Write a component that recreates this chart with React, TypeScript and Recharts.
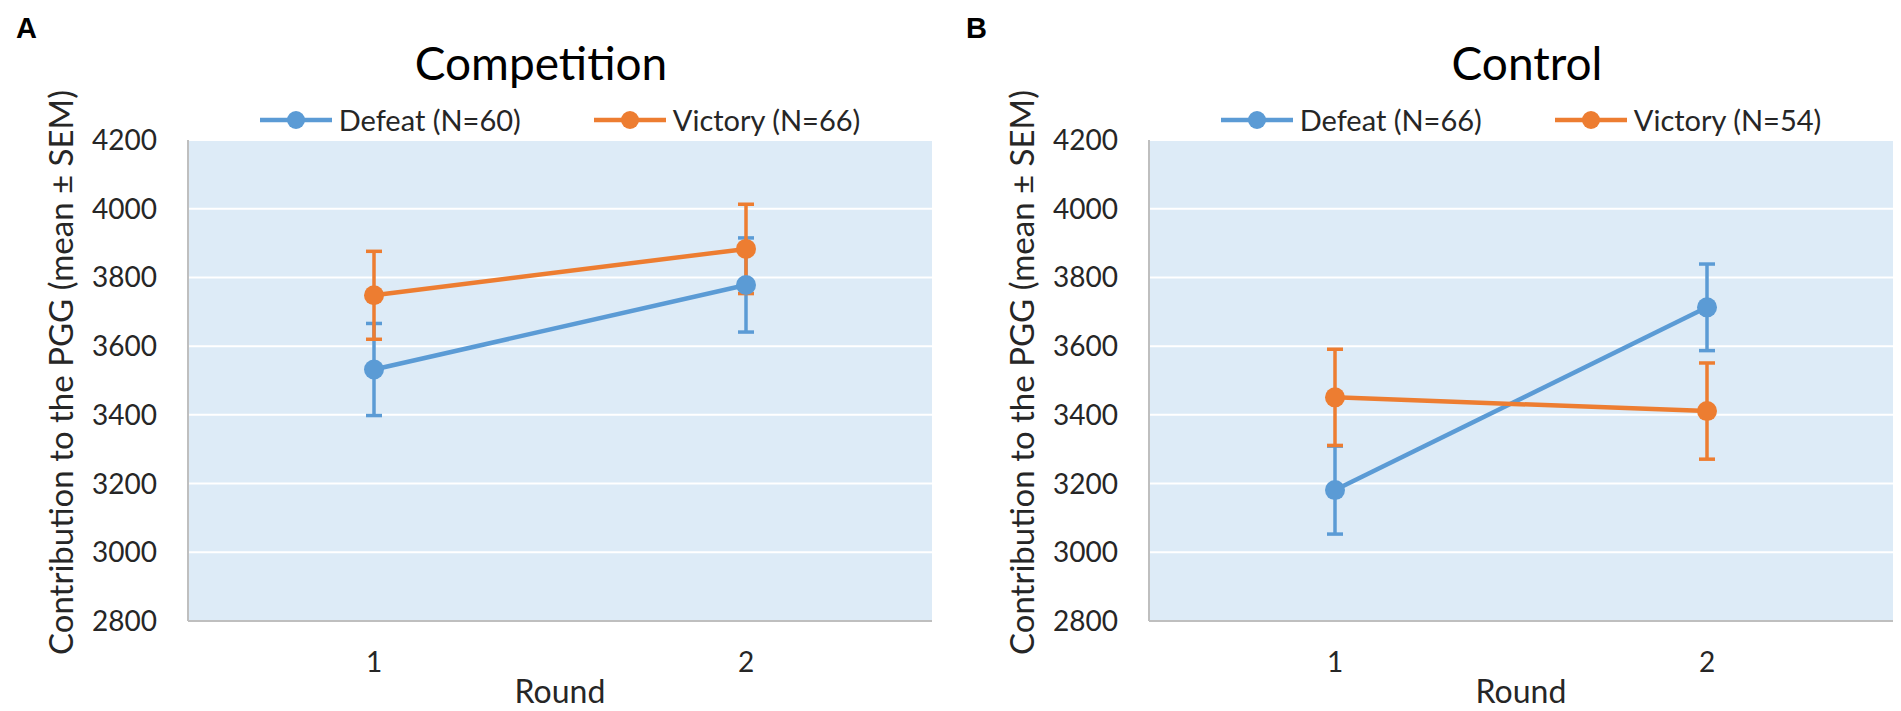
import React from 'react';
import { LineChart, Line, XAxis, YAxis, CartesianGrid, ErrorBar, Legend } from 'recharts';

// --- data ---

const rounds = ['1', '2'];
const yTicks = [2800, 3000, 3200, 3400, 3600, 3800, 4000, 4200];

// A: Competition
const competitionDefeat = [3532, 3778];
const competitionDefeatSem = [134, 137];
const competitionVictory = [3748, 3883];
const competitionVictorySem = [128, 130];

// B: Control
const controlDefeat = [3181, 3713];
const controlDefeatSem = [128, 126];
const controlVictory = [3451, 3411];
const controlVictorySem = [140, 140];

const panelLetters = ['A', 'B'];
const panelTitles = ['Competition', 'Control'];
const defeatN = [60, 66];
const victoryN = [66, 54];

const BLUE = '#5B9BD5';
const ORANGE = '#ED7D31';
const TEXT = '#262626';
const FONT = 'Lato, "Open Sans", sans-serif';

const buildRows = (d: number[], dErr: number[], v: number[], vErr: number[]) =>
  rounds.map((round, i) => ({
    round,
    defeat: d[i],
    defeatErr: dErr[i],
    victory: v[i],
    victoryErr: vErr[i],
  }));

const competitionRows = buildRows(competitionDefeat, competitionDefeatSem, competitionVictory, competitionVictorySem);
const controlRows = buildRows(controlDefeat, controlDefeatSem, controlVictory, controlVictorySem);

const renderLegend = (props: any) => {
  const items = props.payload || [];
  return (
    <div style={{ display: 'flex', justifyContent: 'center', alignItems: 'center', height: 40, gap: 73 }}>
      {items.map((it: any) => (
        <div key={it.value} style={{ display: 'flex', alignItems: 'center' }}>
          <svg width={72} height={24}>
            <line x1={0} y1={12} x2={72} y2={12} stroke={it.color} strokeWidth={4.5} />
            <circle cx={36} cy={12} r={9} fill={it.color} />
          </svg>
          <span style={{ marginLeft: 7, fontFamily: FONT, fontSize: 29, color: TEXT, lineHeight: '40px' }}>
            {it.value}
          </span>
        </div>
      ))}
    </div>
  );
};

const yLabel = (props: any) => {
  const vb = props.viewBox || {};
  const cx = vb.x + 60;
  const cy = vb.y + vb.height / 2 - 8;
  return (
    <text
      x={cx}
      y={cy}
      transform={`rotate(-90, ${cx}, ${cy})`}
      textAnchor="middle"
      dominantBaseline="central"
      fontFamily={FONT}
      fontSize={33}
      fill={TEXT}
    >
      Contribution to the PGG (mean ± SEM)
    </text>
  );
};

interface PanelProps {
  idx: number;
  rows: any[];
  left: number;
  width: number;
  marginRight: number;
  titleX: number;
  letterX: number;
}

const Panel: React.FC<PanelProps> = ({ idx, rows, left, width, marginRight, titleX, letterX }) => {
  const plotLeft = 188;
  const plotWidth = width - plotLeft - marginRight;
  return (
    <div style={{ position: 'absolute', left, top: 0, width, height: 711 }}>
      <LineChart
        width={width}
        height={711}
        data={rows}
        margin={{ top: 100, right: marginRight, bottom: 0, left: 0 }}
      >
        <CartesianGrid vertical={false} stroke="#FFFFFF" strokeWidth={2} fill="#DDEBF7" fillOpacity={1} />
        <XAxis
          dataKey="round"
          scale="point"
          padding={{ left: plotWidth / 4, right: plotWidth / 4 }}
          height={90}
          tickLine={false}
          tickSize={0}
          tickMargin={31}
          axisLine={{ stroke: '#BFBFBF', strokeWidth: 2 }}
          tick={{ fontSize: 28, fill: TEXT, fontFamily: FONT }}
          label={{ value: 'Round', position: 'insideBottom', offset: 8, fontSize: 32, fill: TEXT, fontFamily: FONT }}
        />
        <YAxis
          type="number"
          domain={[2800, 4200]}
          ticks={yTicks}
          interval={0}
          width={plotLeft}
          tickLine={false}
          tickSize={0}
          tickMargin={31}
          axisLine={{ stroke: '#BFBFBF', strokeWidth: 2 }}
          tick={{ fontSize: 28, fill: TEXT, fontFamily: FONT }}
          label={{ content: yLabel }}
        />
        <Legend
          verticalAlign="top"
          content={renderLegend}
          wrapperStyle={{ left: plotLeft, width: plotWidth, height: 40 }}
        />
        <Line
          type="linear"
          dataKey="defeat"
          name={`Defeat (N=${defeatN[idx]})`}
          stroke={BLUE}
          strokeWidth={4.5}
          dot={{ r: 10, fill: BLUE, stroke: BLUE, strokeWidth: 0 }}
          activeDot={false}
          isAnimationActive={false}
        >
          <ErrorBar dataKey="defeatErr" direction="y" width={8} strokeWidth={3.5} stroke={BLUE} isAnimationActive={false} />
        </Line>
        <Line
          type="linear"
          dataKey="victory"
          name={`Victory (N=${victoryN[idx]})`}
          stroke={ORANGE}
          strokeWidth={4.5}
          dot={{ r: 10, fill: ORANGE, stroke: ORANGE, strokeWidth: 0 }}
          activeDot={false}
          isAnimationActive={false}
        >
          <ErrorBar dataKey="victoryErr" direction="y" width={8} strokeWidth={3.5} stroke={ORANGE} isAnimationActive={false} />
        </Line>
      </LineChart>
      <svg
        width={width}
        height={100}
        style={{ position: 'absolute', left: 0, top: 0, pointerEvents: 'none' }}
      >
        <text x={letterX} y={38} fontFamily='"Liberation Sans", Arial, sans-serif' fontWeight="bold" fontSize={29} fill="#000">
          {panelLetters[idx]}
        </text>
        <text x={titleX} y={80} textAnchor="middle" fontFamily={FONT} fontSize={46} fill="#000">
          {panelTitles[idx]}
        </text>
      </svg>
    </div>
  );
};

export default function App() {
  return (
    <div style={{ position: 'absolute', left: 0, top: 0, width: 1901, height: 711, background: '#fff' }}>
      <Panel idx={0} rows={competitionRows} left={0} width={960} marginRight={28} titleX={541} letterX={16} />
      <Panel idx={1} rows={controlRows} left={961} width={940} marginRight={8} titleX={566} letterX={5} />
    </div>
  );
}
